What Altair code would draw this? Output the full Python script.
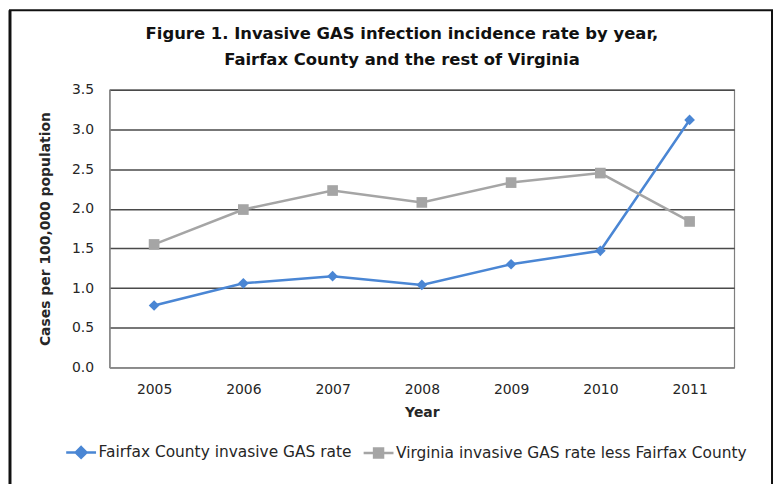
import altair as alt
import pandas as pd

years = ["2005", "2006", "2007", "2008", "2009", "2010", "2011"]
fairfax = [0.78, 1.06, 1.15, 1.04, 1.30, 1.47, 3.12]
virginia = [1.55, 1.99, 2.23, 2.08, 2.33, 2.45, 1.84]
series_names = ["Fairfax County invasive GAS rate",
                "Virginia invasive GAS rate less Fairfax County"]
series_colors = ["#4a86d4", "#a5a5a5"]
series_shapes = ["diamond", "square"]
y_ticks = [0, 0.5, 1.0, 1.5, 2.0, 2.5, 3.0, 3.5]

rows = []
for yr, a, b in zip(years, fairfax, virginia):
    rows.append({"Year": yr, "Series": series_names[0], "Marker": series_shapes[0], "Rate": a})
    rows.append({"Year": yr, "Series": series_names[1], "Marker": series_shapes[1], "Rate": b})
df = pd.DataFrame(rows)

FONT = "DejaVu Sans"
TXT = "#262626"

legend_paths = [
    "M-1,0L1,0M0,-0.36L0.36,0L0,0.36L-0.36,0Z",
    "M-1,0L1,0M-0.3,-0.3L0.3,-0.3L0.3,0.3L-0.3,0.3Z",
]

x_enc = alt.X("Year:O", scale=alt.Scale(type="point", padding=0.5),
              axis=alt.Axis(title="Year", labelAngle=0, ticks=False,
                            labelPadding=15, titlePadding=9))
y_enc = alt.Y("Rate:Q", scale=alt.Scale(domain=[0, 3.5], nice=False),
              axis=alt.Axis(title="Cases per 100,000 population", values=y_ticks,
                            format=".1f", ticks=False, labelPadding=16,
                            titlePadding=19))
color_scale = alt.Scale(domain=series_names, range=series_colors)

shape_expr = (f"datum.value === '{series_names[0]}' ? '{legend_paths[0]}' : "
              f"'{legend_paths[1]}'")
legend = alt.Legend(
    title=None, orient="none", legendX=-45, legendY=348, direction="horizontal",
    labelFont=FONT, labelFontSize=15.5, labelColor=TXT, symbolSize=900,
    symbolStrokeWidth=2.5, labelOffset=1, labelLimit=500,
    symbolType=alt.ExprRef(shape_expr),
    symbolFillColor=alt.ExprRef("scale('color', datum.value)"),
    symbolOpacity=1,
)

base = alt.Chart(df)
lines = base.mark_line(strokeWidth=2.5).encode(
    x=x_enc, y=y_enc,
    color=alt.Color("Series:N", scale=color_scale, legend=legend),
    order=alt.Order("Year:O"),
)
points = base.mark_point(filled=True, opacity=1, size=115).encode(
    x=x_enc, y=y_enc,
    color=alt.Color("Series:N", scale=color_scale, legend=None),
    shape=alt.Shape("Marker:N", scale=None),
)

one = alt.Data(values=[{"k": 1}])
frame_left = alt.Chart(one).mark_rule(color="#111111", strokeWidth=3).encode(
    x=alt.value(-100), y=alt.value(-80), y2=alt.value(400))
frame_top = alt.Chart(one).mark_rule(color="#111111", strokeWidth=2).encode(
    x=alt.value(-101), x2=alt.value(667), y=alt.value(-80))
frame_right = alt.Chart(one).mark_rule(color="#111111", strokeWidth=2).encode(
    x=alt.value(666), y=alt.value(-80), y2=alt.value(400))

chart = alt.layer(lines, points, frame_left, frame_top, frame_right).properties(
    width=628, height=279,
    autosize=alt.AutoSizeParams(type="none"),
    padding={"left": 102, "top": 81, "right": 40, "bottom": 116},
    title=alt.TitleParams(
        ["Figure 1. Invasive GAS infection incidence rate by year,",
         "Fairfax County and the rest of Virginia"],
        font=FONT, fontSize=16.5, fontWeight="bold", color="#111111",
        anchor="middle", dx=-20, lineHeight=26, offset=-60),
).configure_view(stroke="#7f7f7f", strokeWidth=1.2).configure_axis(
    labelFont=FONT, labelFontSize=14, labelColor=TXT,
    titleFont=FONT, titleFontSize=14, titleFontWeight="bold", titleColor=TXT,
    domainColor="#8a8a8a", domainWidth=1.5,
    gridColor="#4a4a4a", gridWidth=1.5,
).configure_axisX(grid=False).configure_legend(columnPadding=6)

chart.save("out.html", embed_options={"renderer": "svg", "actions": False})
